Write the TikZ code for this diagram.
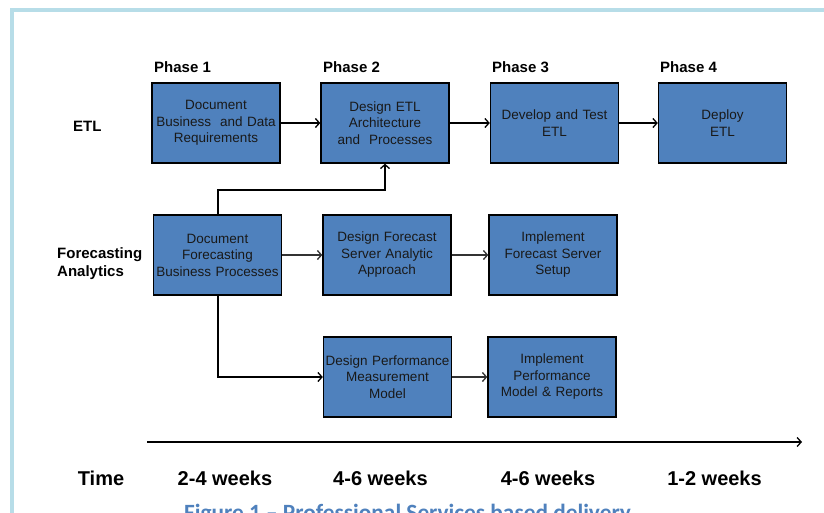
\documentclass[tikz,border=0pt]{standalone}
\usepackage{fontspec}
\setmainfont{Liberation Sans}
\newfontfamily\capfont{Carlito}
\usetikzlibrary{arrows.meta}
\definecolor{boxblue}{HTML}{4F81BD}
\definecolor{framec}{HTML}{B7DDE8}
\definecolor{capblue}{HTML}{4F81BD}
\begin{document}
\begin{tikzpicture}[x=1pt,y=-1pt,
 box/.style={draw=black, line width=1.4pt, fill=boxblue, minimum width=128pt, minimum height=80pt, text width=126pt, inner xsep=0pt, align=center, font=\fontsize{13.5}{16.5}\selectfont, text=black!90},
 phase/.style={font=\bfseries\fontsize{15}{18}\selectfont, anchor=base west, inner sep=0pt},
 rowlab/.style={font=\bfseries\fontsize{15}{18}\selectfont, anchor=west, inner sep=0pt, align=left},
 timelab/.style={font=\bfseries\fontsize{20}{24}\selectfont, anchor=base, inner sep=0pt},
 tip/.style={-{Straight Barb[length=4pt,width=9pt,line width=1.3pt]}},
 arr/.style={line width=1.5pt, tip},
 conn/.style={line width=2pt}
]
\clip (0,0) rectangle (824,512);
\fill[white] (0,0) rectangle (824,512);
\draw[framec, line width=4pt] (12,516) -- (12,10) -- (828,10);

% phase labels
\node[phase] (ph1) at (154,72) {Phase 1};
\node[phase] (ph2) at (323,72) {Phase 2};
\node[phase] (ph3) at (492,72) {Phase 3};
\node[phase] (ph4) at (660,72) {Phase 4};

% row labels
\node[phase] (etl) at (73,131) {ETL};
\node[rowlab] (fa) at (57,264) {Forecasting\\Analytics};

% ETL row
\node[box] (E1) at (216,123) {Document\\Business\ \ and Data\\Requirements};
\node[box] (E2) at (385,123) {Design ETL\\Architecture\\and\ \ Processes};
\node[box] (E3) at (554.5,123) {Develop and Test\\ETL};
\node[box] (E4) at (722.5,123) {Deploy\\ETL};

% Forecasting row
\node[box] (F1) at (217.5,255) {Document\\Forecasting\\Business Processes};
\node[box] (F2) at (387,255) {Design Forecast\\Server Analytic\\Approach};
\node[box] (F3) at (553,255) {Implement\\Forecast Server\\Setup};

% Performance row
\node[box] (P1) at (387.5,377) {Design Performance\\Measurement\\Model};
\node[box] (P2) at (552,377) {Implement\\Performance\\Model \& Reports};

% connectors
\draw[arr] (E1) -- (E2);
\draw[arr] (E2) -- (E3);
\draw[arr] (E3) -- (E4);
\draw[arr, draw=black!80] (F1) -- (F2);
\draw[arr, draw=black!80] (F2) -- (F3);
\draw[arr, draw=black!80] (P1) -- (P2);

\coordinate (k1) at (385,190);
\draw[conn, tip] (F1.north) |- (k1) -- (E2.south);
\draw[conn, tip] (F1.south) |- (P1.west);

% timeline
\coordinate (t0) at (147,442);
\coordinate (t1) at (802,442);
\draw[arr] (t0) -- (t1);

\node[timelab] (tm) at (101,485) {Time};
\node[timelab] (w1) at (225,485) {2-4 weeks};
\node[timelab] (w2) at (380.5,485) {4-6 weeks};
\node[timelab] (w3) at (548,485) {4-6 weeks};
\node[timelab] (w4) at (714.5,485) {1-2 weeks};

% caption (cut off at the bottom edge, as in the reference)
\node[font=\capfont\bfseries\fontsize{23.3}{27}\selectfont, text=capblue, anchor=base, inner sep=0pt] (cap) at (407.5,520) {Figure 1 – Professional Services based delivery};
\end{tikzpicture}
\end{document}
